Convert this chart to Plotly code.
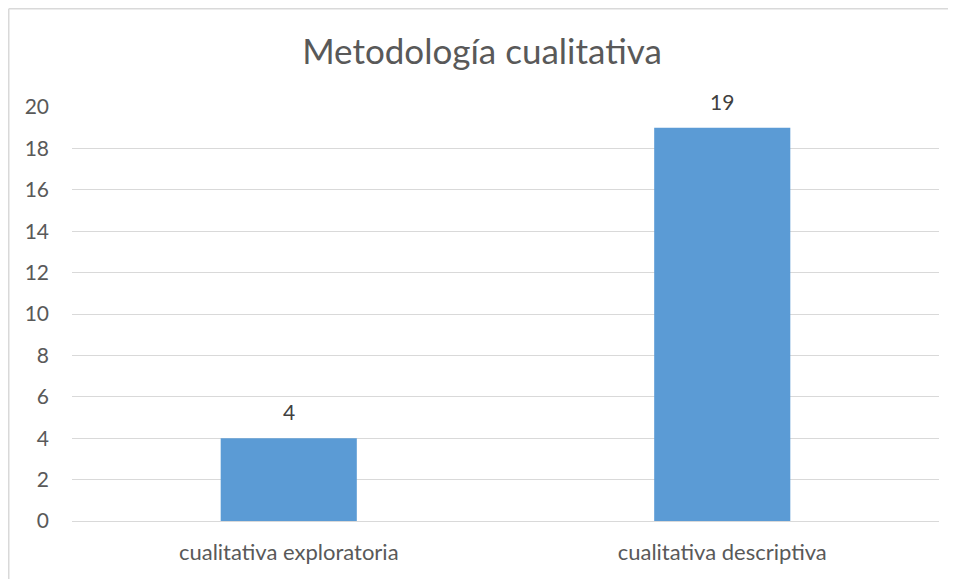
import plotly.graph_objects as go

categories = ["cualitativa exploratoria", "cualitativa descriptiva"]
values = [4, 19]
y_ticks = [0, 2, 4, 6, 8, 10, 12, 14, 16, 18, 20]

FONT = "Lato, 'Open Sans', sans-serif"
W, H = 948, 571
L, T = 64, 99
PW, PH = 867, 414

fig = go.Figure(go.Bar(
    x=categories, y=values,
    marker=dict(color="#5B9BD5", line=dict(width=0)),
    width=0.314, hoverinfo="x+y",
))
for c, v in zip(categories, values):
    fig.add_annotation(x=c, y=v, text=str(v), showarrow=False, yanchor="bottom",
                       yshift=12, font=dict(size=21, color="#404040", family=FONT))

bx = (0.75 - L) / PW
by = (T + PH - 0.75) / PH
fig.update_layout(
    width=W, height=H,
    margin=dict(l=L, r=W - L - PW, t=T, b=H - T - PH, autoexpand=False),
    paper_bgcolor="white", plot_bgcolor="white",
    title=dict(text="Metodología cualitativa", x=0.5, xanchor="center",
               y=1 - 44/H, yanchor="middle",
               font=dict(size=35, color="#595959", family=FONT)),
    showlegend=False,
    font=dict(family=FONT, color="#595959", size=21),
    xaxis=dict(showgrid=False, showline=False, ticks="", ticklabelstandoff=16,
               tickfont=dict(size=22, color="#595959")),
    yaxis=dict(range=[0, 20], tickvals=y_ticks, showgrid=True, gridcolor="#D9D9D9",
               gridwidth=1.3, zeroline=True, zerolinecolor="#D9D9D9", zerolinewidth=1.3,
               showline=False, ticks="", ticklabelstandoff=22,
               tickfont=dict(size=21, color="#595959")),
    shapes=[
        dict(type="line", xref="paper", yref="paper", x0=bx, x1=bx, y0=-0.3, y1=by,
             line=dict(color="#D9D9D9", width=1.5), layer="below"),
        dict(type="line", xref="paper", yref="paper", x0=bx, x1=1.2, y0=by, y1=by,
             line=dict(color="#D9D9D9", width=1.5), layer="below"),
    ],
)
fig.write_html("out.html")
